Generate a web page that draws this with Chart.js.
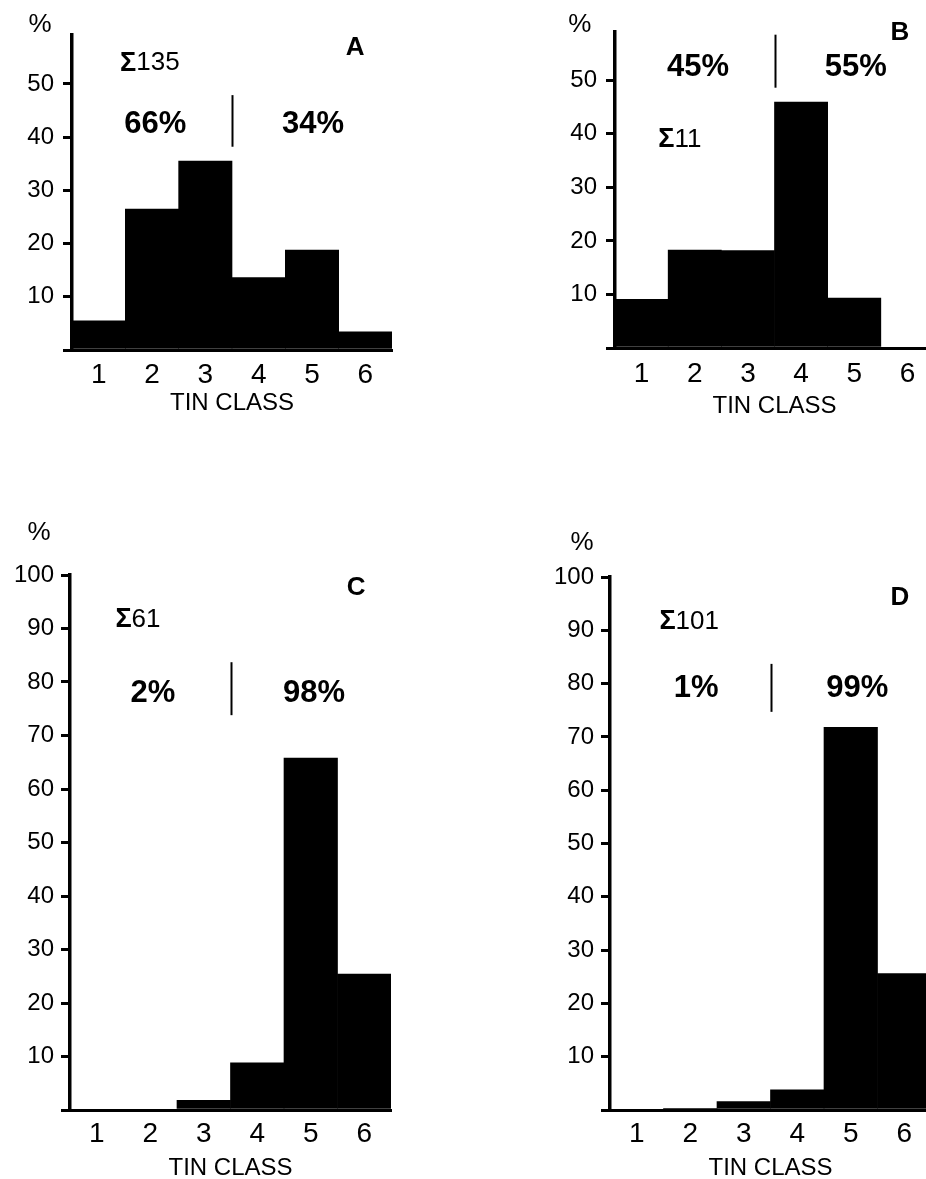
<!DOCTYPE html>
<html>
<head>
<meta charset="utf-8">
<script src="https://cdn.jsdelivr.net/npm/chart.js@4/dist/chart.umd.min.js"></script>
<style>
  html, body { margin: 0; padding: 0; overflow: hidden; background: #fff; }
  #wrap { position: relative; width: 926px; height: 1179px; overflow: hidden; background: #fff; }
  canvas { position: absolute; }
</style>
</head>
<body>
<div id="wrap">
  <canvas id="cA" width="463" height="440" style="left:0px;top:0px;width:463px;height:440px"></canvas>
  <canvas id="cB" width="480" height="438" style="left:463px;top:0px;width:480px;height:438px"></canvas>
  <canvas id="cC" width="463" height="720" style="left:0px;top:480px;width:463px;height:720px"></canvas>
  <canvas id="cD" width="480" height="720" style="left:463px;top:480px;width:480px;height:720px"></canvas>
</div>
<script>
// ---- data ----
const tinClasses = ['1', '2', '3', '4', '5', '6'];
const pctA = [5.5, 26.5, 35.5, 13.6, 18.8, 3.4];
const pctB = [9.1, 18.3, 18.2, 45.9, 9.3, 0];
const pctC = [0, 0, 1.8, 8.8, 65.8, 25.4];
const pctD = [0, 0.2, 1.6, 3.8, 71.8, 25.6];
const yTicksTop = [0, 10, 20, 30, 40, 50];
const yTicksBottom = [0, 10, 20, 30, 40, 50, 60, 70, 80, 90, 100];
const panelLetters = ['A', 'B', 'C', 'D'];
const sampleSizes = ['135', '11', '61', '101'];
const leftShares = ['66%', '45%', '2%', '1%'];
const rightShares = ['34%', '55%', '98%', '99%'];
const xTitle = 'TIN CLASS';

const FAM = "'Liberation Sans', Arial, Helvetica, sans-serif";
Chart.defaults.font.family = FAM;
Chart.defaults.color = '#000';

const annotPlugin = {
  id: 'annot',
  afterDatasetsDraw(chart, args, o) {
    const ctx = chart.ctx, xs = chart.scales.x, ys = chart.scales.y;
    ctx.save();
    ctx.fillStyle = '#000';
    ctx.textAlign = 'center';
    ctx.textBaseline = 'middle';
    for (const t of o.texts) {
      ctx.font = t.font;
      ctx.fillText(t.text, xs.getPixelForValue(t.x), ys.getPixelForValue(t.y));
    }
    // sample size: bold sigma followed by the count
    const s = o.sum;
    const sx = xs.getPixelForValue(s.x), sy = ys.getPixelForValue(s.y);
    ctx.font = 'bold 27px ' + FAM;
    const wSig = ctx.measureText('Σ').width;
    ctx.font = '26px ' + FAM;
    const wNum = ctx.measureText(s.text).width;
    const x0 = sx - (wSig + wNum) / 2;
    ctx.textAlign = 'left';
    ctx.font = 'bold 27px ' + FAM;
    ctx.fillText('Σ', x0, sy);
    ctx.font = '26px ' + FAM;
    ctx.fillText(s.text, x0 + wSig, sy);
    const d = o.divider;
    const x = Math.round(xs.getPixelForValue(d.x)) + 0.5;
    ctx.strokeStyle = '#000';
    ctx.lineWidth = 2;
    ctx.beginPath();
    ctx.moveTo(x, ys.getPixelForValue(d.y0));
    ctx.lineTo(x, ys.getPixelForValue(d.y1));
    ctx.stroke();
    ctx.restore();
  }
};

function makePanel(id, values, i, cfg) {
  const ticksArr = cfg.ticks;
  return new Chart(document.getElementById(id), {
    type: 'bar',
    data: {
      labels: tinClasses,
      datasets: [{
        data: values,
        backgroundColor: '#000',
        borderWidth: 0,
        barPercentage: 1,
        categoryPercentage: 1
      }]
    },
    options: {
      responsive: false,
      animation: false,
      devicePixelRatio: 1,
      layout: { padding: cfg.pad },
      plugins: {
        legend: { display: false },
        tooltip: { enabled: false },
        annot: {
          texts: [
            { text: '%', x: cfg.pct[0], y: cfg.pct[1], font: '26px ' + FAM },
            { text: panelLetters[i], x: cfg.letter[0], y: cfg.letter[1], font: 'bold 26px ' + FAM },
            { text: leftShares[i], x: cfg.left[0], y: cfg.left[1], font: 'bold 31px ' + FAM },
            { text: rightShares[i], x: cfg.right[0], y: cfg.right[1], font: 'bold 31px ' + FAM }
          ],
          sum: { text: sampleSizes[i], x: cfg.sum[0], y: cfg.sum[1] },
          divider: { x: 2.5, y0: cfg.div[0], y1: cfg.div[1] }
        }
      },
      scales: {
        x: {
          type: 'category',
          offset: true,
          grid: { display: false, drawTicks: false },
          border: { display: true, color: '#000', width: 3 },
          ticks: { font: { size: 28 }, color: '#000', padding: cfg.xPad, maxRotation: 0, autoSkip: false },
          title: { display: true, text: xTitle, color: '#000', font: { size: 24 }, padding: { top: 0, bottom: cfg.titlePad } },
          afterFit(s) { s.height = 90; }
        },
        y: {
          min: 0,
          max: cfg.max,
          afterBuildTicks(s) { s.ticks = ticksArr.map(v => ({ value: v })); },
          grid: { display: true, drawOnChartArea: false, drawTicks: true, tickLength: 9, lineWidth: 3, color: '#000' },
          border: { display: true, color: '#000', width: 3.5 },
          ticks: {
            font: { size: 24 }, color: '#000', padding: cfg.yPad,
            callback: v => (v === 0 ? '' : String(v))
          },
          afterFit(s) { s.width = cfg.yW; }
        }
      }
    },
    plugins: [annotPlugin]
  });
}

makePanel('cA', pctA, 0, {
  ticks: yTicksTop, max: 59.2, yW: 72, pad: { top: 35, right: 71, bottom: 0, left: 0 },
  xPad: 8, titlePad: 22, yPad: 9,
  pct: [-1.1, 61.1], letter: [4.81, 56.8], sum: [0.96, 53.9],
  left: [1.06, 42.3], right: [4.02, 42.3], div: [47.9, 38.2]
});
makePanel('cB', pctB, 1, {
  ticks: yTicksTop, max: 59, yW: 152, pad: { top: 32, right: 9, bottom: 0, left: 0 },
  xPad: 9, titlePad: 17, yPad: 9,
  pct: [-1.16, 60.4], letter: [4.86, 58.9], sum: [0.72, 38.9],
  left: [1.06, 52.3], right: [4.03, 52.3], div: [58.5, 48.6]
});
makePanel('cC', pctC, 2, {
  ticks: yTicksBottom, max: 100, yW: 70, pad: { top: 95, right: 72, bottom: 0, left: 0 },
  xPad: 7, titlePad: 17.6, yPad: 7,
  pct: [-1.08, 107.9], letter: [4.85, 97.6], sum: [0.77, 91.6],
  left: [1.05, 77.9], right: [4.06, 77.9], div: [83.7, 73.8]
});
makePanel('cD', pctD, 3, {
  ticks: yTicksBottom, max: 100, yW: 147, pad: { top: 97, right: 12, bottom: 0, left: 0 },
  xPad: 7, titlePad: 17.6, yPad: 7,
  pct: [-1.02, 106.4], letter: [4.92, 96.1], sum: [0.98, 91.6],
  left: [1.11, 79.0], right: [4.12, 79.0], div: [83.7, 74.7]
});
</script>
</body>
</html>
